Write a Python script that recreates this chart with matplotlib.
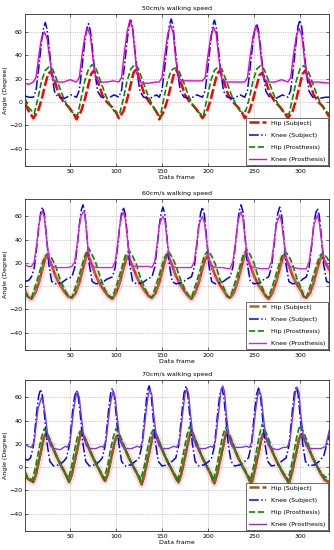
import numpy as np
import matplotlib.pyplot as plt

plt.rcParams['font.family'] = 'DejaVu Sans'

# ---- 50cm/s ----
ks1_x = [1,5,10,13,16,19,21,23,25,27,30,33,37,44,51,57,60,63,66,68,70,72,74,77,80,84,91,98,
         103,106,109,112,114,116,118,120,123,126,130,137,144,147,150,153,156,158,160,162,164,167,170,174,181,188,
         194,197,200,203,205,207,209,211,214,217,221,228,235,240,243,246,249,251,253,255,257,260,263,267,274,281,
         287,290,293,296,298,300,302,304,307,310,314,321,328,332]
ks1_y = [5,4,4,10,30,52,63,68,62,48,25,9,4,3,6,4,10,30,52,62,67,61,48,25,9,4,3,6,
         4,10,30,52,65,70,64,48,25,9,4,3,6,4,10,30,52,66,71,65,48,25,9,4,3,6,
         4,10,30,52,65,70,64,48,25,9,4,3,6,4,10,30,52,62,67,61,48,25,9,4,3,6,
         4,10,30,52,65,70,64,48,25,9,4,3,4,4]
kp1_x = [1,5,10,13,16,19,22,25,28,31,35,43,50,57,60,63,66,69,72,75,78,82,90,97,103,106,109,112,115,118,121,124,128,136,143,
         147,150,153,156,159,162,165,168,172,180,187,194,197,200,203,206,209,212,215,219,227,234,240,243,246,249,252,255,258,261,265,273,280,
         287,290,293,296,299,302,305,308,312,320,332]
kp1_y = [16,15,17,21,40,55,60,54,36,20,17,17,19,17,21,40,56,63,57,36,20,17,17,18,17,21,42,60,70,63,38,20,16,16,17,
         17,21,40,57,66,60,36,20,18,18,18,18,21,40,56,64,58,36,20,17,17,17,17,21,40,56,65,59,36,20,17,17,19,
         17,21,40,56,63,57,36,20,17,17,16]
hs1_x = [1,5,10,15,19,23,26,29,33,38,43,48,53,57,62,66,70,73,76,80,85,90,95,100,103,108,112,116,119,122,126,131,136,141,145,
         147,152,156,160,163,166,170,175,180,185,190,194,199,203,207,210,213,217,222,227,232,237,240,245,249,253,256,259,263,268,273,278,283,
         287,292,296,300,303,306,310,315,320,325,332]
hs1_y = [-1,-8,-14,-8,2,15,24,26,18,6,0,-4,-9,-15,-8,2,15,24,27,18,6,0,-4,-9,-14,-8,2,15,25,28,18,6,0,-5,-10,
         -15,-8,2,15,24,27,18,6,0,-4,-9,-14,-8,2,15,24,27,18,6,0,-4,-9,-14,-8,2,14,23,25,17,6,0,-4,-9,
         -14,-8,2,15,24,27,18,6,0,-4,-13]
hp1_x = [1,5,11,15,19,23,27,31,36,41,46,51,58,62,66,70,74,78,83,88,93,98,104,108,112,116,120,124,129,134,139,144,
         148,152,156,160,164,168,173,178,183,188,195,199,203,207,211,215,220,225,230,235,241,245,249,253,257,261,266,271,276,281,
         288,292,296,300,304,308,313,318,323,328,332]
hp1_y = [3,-5,-10,3,18,27,30,28,18,7,-2,-8,-12,3,18,28,32,29,18,7,-2,-8,-10,3,18,28,32,29,18,7,-2,-9,
         -13,3,18,27,29,27,18,7,-2,-8,-12,3,18,27,30,28,18,7,-2,-8,-8,3,18,28,31,28,18,7,-2,-8,
         -11,3,18,28,31,28,18,7,-2,-8,-10]

# ---- 60cm/s ----
ks2_x = [1,5,8,11,14,16,18,20,22,24,27,30,34,41,46,52,55,58,60,62,64,66,68,71,74,78,85,90,
         96,99,102,104,106,108,110,112,115,118,122,129,134,139,142,145,147,149,151,153,155,158,161,165,172,177,
         182,185,188,190,192,194,196,198,201,204,208,215,220,224,227,230,232,234,236,238,240,243,246,250,257,261,
         266,269,272,274,276,278,280,282,285,288,292,299,303,307,310,313,315,317,319,321,323,326,329,332]
ks2_y = [4,5,8,16,36,52,63,68,62,46,18,4,2,3,6,8,16,36,52,65,70,64,46,18,4,2,3,6,
         8,16,36,52,63,68,62,46,18,4,2,3,6,8,16,36,52,63,68,62,46,18,4,2,3,6,
         8,16,36,52,63,68,62,46,18,4,2,3,6,8,16,36,52,65,70,64,46,18,4,2,3,6,
         8,16,36,52,63,68,62,46,18,4,2,3,6,8,16,36,52,62,67,61,46,18,4,3]
kp2_x = [1,4,8,11,14,16,18,20,22,25,28,31,35,42,48,52,55,58,60,62,64,66,69,72,75,79,86,92,
         96,99,102,104,106,108,110,113,116,119,123,130,136,139,142,145,147,149,151,153,156,159,162,166,173,179,
         182,185,188,190,192,194,196,199,202,205,209,216,222,224,227,230,232,234,236,238,241,244,247,251,258,264,
         266,269,272,274,276,278,280,283,286,289,293,300,305,307,310,313,315,317,319,321,324,327,330,332]
kp2_y = [19,17,17,21,38,52,61,65,59,36,20,17,16,16,16,17,21,38,52,60,64,63,36,20,17,16,16,16,
         16,21,38,52,60,64,58,36,20,17,17,17,17,16,21,38,52,57,60,57,36,20,17,16,16,16,
         16,21,38,52,57,60,55,36,20,17,16,16,15,15,21,38,52,60,64,58,36,20,17,16,15,15,
         15,21,38,52,57,61,55,36,20,17,16,15,15,15,21,38,52,57,61,55,36,20,17,16]
hs2_x = [1,4,8,12,16,20,23,25,29,34,39,44,48,52,56,60,64,67,69,73,78,83,88,92,96,100,104,108,111,113,117,122,127,132,136,
         139,143,147,151,154,156,160,165,170,175,179,182,186,190,194,197,199,203,208,213,218,221,224,228,232,236,239,241,245,250,255,260,263,
         266,270,274,278,281,283,287,292,297,302,304,307,311,315,319,322,324,328,332]
hs2_y = [-4,-9,-11,-6,3,15,24,27,20,9,1,-5,-9,-10,-6,3,15,24,28,20,9,1,-5,-9,-11,-6,3,15,23,26,19,9,1,-5,-9,
         -10,-6,3,15,24,27,20,9,1,-5,-9,-11,-6,3,15,23,26,19,9,1,-5,-9,-10,-6,3,15,24,28,20,9,1,-5,-9,
         -11,-6,3,15,24,27,20,9,1,-5,-9,-10,-6,3,15,23,26,20,14]
hp2_x = [1,4,8,13,18,22,26,30,34,39,44,48,52,57,62,66,70,74,78,83,88,92,96,101,106,110,114,118,122,127,132,136,
         139,144,149,153,157,161,165,170,175,179,182,187,192,196,200,204,208,213,218,221,224,229,234,238,242,246,250,255,260,263,
         266,271,276,280,284,288,292,297,302,304,307,312,317,321,325,329,332]
hp2_y = [-5,-9,-10,2,15,25,28,24,18,6,-3,-8,-10,2,15,26,33,27,20,7,-3,-8,-10,2,15,26,31,26,19,6,-3,-8,
         -10,2,15,25,30,25,18,6,-3,-8,-10,2,15,26,31,26,19,6,-3,-8,-10,2,15,26,32,27,20,7,-3,-8,
         -10,2,15,25,30,26,19,6,-3,-8,-10,2,15,25,29,25,21]

# ---- 70cm/s ----
ks3_x = [1,4,7,10,12,14,16,18,20,22,25,28,32,38,43,46,49,51,53,55,57,59,61,64,67,71,77,82,
         85,88,90,92,94,96,98,100,103,106,110,116,121,125,128,130,132,134,136,138,140,143,146,150,156,161,
         165,168,170,172,174,176,178,180,183,186,190,196,201,204,207,209,211,213,215,217,219,222,225,229,235,240,
         244,247,249,251,253,255,257,259,262,265,269,275,280,285,288,290,292,294,296,298,300,303,306,310,316,321,326,332]
ks3_y = [7,6,8,18,34,50,62,67,61,46,20,5,1,2,5,8,18,34,50,61,66,60,46,20,5,1,2,5,
         8,18,34,50,63,68,62,46,20,5,1,2,5,8,18,34,50,65,70,64,46,20,5,1,2,5,
         8,18,34,50,64,69,63,46,20,5,1,2,5,8,18,34,50,63,68,62,46,20,5,1,2,5,
         8,18,34,50,63,68,62,46,20,5,1,2,5,8,18,34,50,64,69,63,46,20,5,1,2,5,10,28]
kp3_x = [1,4,8,11,13,15,17,19,21,23,26,29,33,39,45,47,50,52,54,56,58,60,62,65,68,72,78,84,
         86,89,91,93,95,97,99,101,104,107,111,117,123,126,129,131,133,135,137,139,141,144,147,151,157,163,
         166,169,171,173,175,177,179,181,184,187,191,197,203,205,208,210,212,214,216,218,220,223,226,230,236,242,
         245,248,250,252,254,256,258,260,263,266,270,276,282,286,289,291,293,295,297,299,301,304,307,311,317,323,328,332]
kp3_y = [20,18,17,22,36,50,55,60,55,45,25,18,16,15,18,17,22,36,50,60,65,60,45,25,18,16,16,18,
         17,22,36,50,60,65,60,45,25,18,16,16,18,17,22,36,50,62,67,62,45,25,18,16,16,18,
         17,22,36,50,63,68,63,45,25,18,16,16,18,17,22,36,50,65,70,65,45,25,18,17,17,18,
         17,22,36,50,61,66,61,45,25,18,16,15,17,17,22,36,50,64,69,64,45,25,18,16,16,16,18,32]
hs3_x = [1,4,10,13,16,19,21,23,27,31,36,41,45,48,49,52,55,58,60,62,66,70,75,80,84,87,88,91,94,97,99,101,105,109,114,119,123,126,
         128,131,134,137,139,141,145,149,154,159,163,166,168,171,174,177,179,181,185,189,194,199,203,205,207,210,213,216,218,220,224,228,233,238,242,245,
         247,250,253,256,258,260,264,268,273,278,282,286,288,291,294,297,299,301,305,309,314,319,323,327,332]
hs3_y = [-6,-10,-13,-6,5,16,24,28,24,17,8,0,-6,-11,-13,-6,5,16,24,30,25,17,8,0,-6,-11,-12,-6,5,16,23,27,23,17,8,0,-6,-11,
         -15,-6,5,16,24,29,25,17,8,0,-6,-11,-13,-6,5,16,24,30,25,17,8,0,-6,-11,-14,-6,5,16,24,30,25,17,8,0,-6,-11,
         -15,-6,5,16,24,29,24,17,8,0,-6,-11,-14,-6,5,16,24,28,24,17,8,0,-6,-11,-13]
hp3_x = [1,4,9,13,16,19,22,26,30,35,40,45,47,48,52,55,58,61,65,69,74,79,84,86,87,91,94,97,100,104,108,113,118,123,126,
         127,131,134,137,140,144,148,153,158,163,166,167,171,174,177,180,184,188,193,198,203,205,206,210,213,216,219,223,227,232,237,242,245,
         246,250,253,256,259,263,267,272,277,282,286,287,291,294,297,300,304,308,313,318,323,328,332]
hp3_y = [-4,-9,-11,2,15,26,33,28,20,10,2,-5,-9,-11,2,15,26,31,27,20,10,2,-5,-9,-10,2,15,26,33,28,20,10,2,-5,-9,
         -11,2,15,26,32,28,20,10,2,-5,-9,-12,2,15,27,35,29,21,10,2,-5,-9,-11,2,15,27,34,29,21,10,2,-5,-9,
         -12,2,15,28,37,30,22,10,2,-5,-9,-12,2,15,28,36,30,22,10,2,-5,-9,-6]

titles = ['50cm/s walking speed', '60cm/s walking speed', '70cm/s walking speed']
labels = ['Hip (Subject)', 'Knee (Subject)', 'Hip (Prosthesis)', 'Knee (Prosthesis)']

fig = plt.figure(figsize=(3.34, 5.5), dpi=100)
boxes = [[0.075, 0.698, 0.911, 0.276], [0.075, 0.3636, 0.911, 0.2745], [0.075, 0.0345, 0.911, 0.2745]]

def panel(box, title, hs, ks, hp, kp, hcol, kcol, under=None):
    ax = fig.add_axes(box)
    if under is not None:
        ax.plot(hs[0], hs[1], color='#ffd6e6', lw=5, zorder=1)
        ax.plot(hs[0], hs[1], color=under, lw=1.6, zorder=2)
    ax.plot(hs[0], hs[1], color=hcol, ls=(0, (4, 1.2)), lw=1.8, label=labels[0], zorder=3)
    ax.plot(ks[0], ks[1], color='#0000ff', ls='-.', lw=1.1, label=labels[1], zorder=3)
    ax.plot(hp[0], hp[1], color='#009000', ls='--', lw=1.2, label=labels[2], zorder=3)
    ax.plot(kp[0], kp[1], color=kcol, ls='-', lw=1.0, label=labels[3], zorder=3)
    ax.set_xlim(1, 332)
    ax.set_ylim(-55, 75)
    ax.set_xticks([50, 100, 150, 200, 250, 300])
    ax.set_yticks([-40, -20, 0, 20, 40, 60])
    ax.grid(True, ls=':', lw=0.5, color='#999999')
    ax.tick_params(labelsize=4.5, direction='in', length=2, width=0.4, pad=2, top=True, right=True)
    for s in ax.spines.values():
        s.set_linewidth(0.5)
    ax.set_title(title, fontsize=4.5, pad=3)
    ax.set_xlabel('Data frame', fontsize=4.5, labelpad=1)
    ax.set_ylabel('Angle (Degree)', fontsize=4.5, labelpad=1)
    leg = ax.legend(loc='lower right', fontsize=4.5, handlelength=2.8, labelspacing=1.1,
                    borderaxespad=0.2, fancybox=False, edgecolor='#333333', framealpha=1)
    leg.get_frame().set_linewidth(0.5)
    return ax

panel(boxes[0], titles[0], (hs1_x, hs1_y), (ks1_x, ks1_y), (hp1_x, hp1_y), (kp1_x, kp1_y), '#ff0000', '#ee00cc')
panel(boxes[1], titles[1], (hs2_x, hs2_y), (ks2_x, ks2_y), (hp2_x, hp2_y), (kp2_x, kp2_y), '#a86a30', '#dd22cc', under='#ff1010')
panel(boxes[2], titles[2], (hs3_x, hs3_y), (ks3_x, ks3_y), (hp3_x, hp3_y), (kp3_x, kp3_y), '#9a5a20', '#7a3ae0', under='#5a5a10')

fig.savefig('out.png', dpi=100)
